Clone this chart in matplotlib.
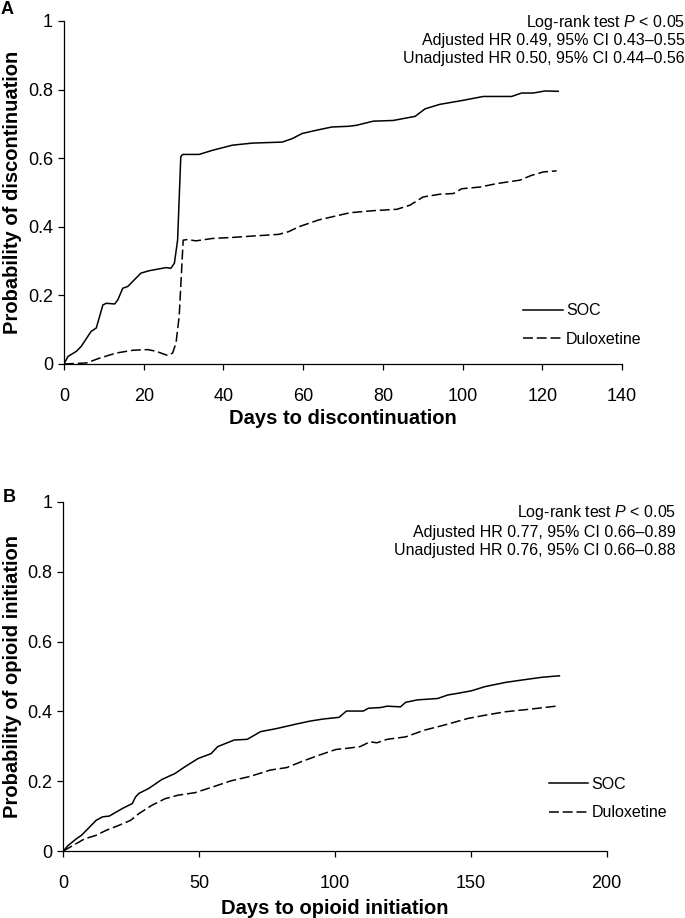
import matplotlib
matplotlib.use('Agg')
import matplotlib.pyplot as plt

plt.rcParams['font.family'] = ['Liberation Sans', 'DejaVu Sans']
plt.rcParams['mathtext.fontset'] = 'custom'
plt.rcParams['mathtext.rm'] = 'Liberation Sans'
plt.rcParams['mathtext.it'] = 'Liberation Sans:italic'

# Panel A: discontinuation
a_soc_days = [0, 1, 3.1, 4.3, 6.8, 8.1, 9.75, 10.6, 12.7, 13.5, 14.75, 16, 19.3, 21.4,
              25.6, 26.8, 27.7, 28.5, 29.3, 29.75, 33.9, 37.25, 42.25, 47.25, 54.75,
              57.25, 59.75, 63.9, 67.25, 71.4, 73.4, 77.6, 82.6, 88.1, 90.6, 94.3,
              99.8, 105.2, 112.3, 114.8, 117.7, 120.7, 124.0]
a_soc_prob = [0.0, 0.022, 0.037, 0.051, 0.095, 0.105, 0.172, 0.177, 0.175, 0.187, 0.221,
              0.226, 0.265, 0.272, 0.281, 0.279, 0.294, 0.361, 0.604, 0.611, 0.611,
              0.623, 0.638, 0.644, 0.647, 0.657, 0.672, 0.683, 0.691, 0.693, 0.696,
              0.708, 0.710, 0.722, 0.744, 0.757, 0.768, 0.780, 0.780, 0.790, 0.790,
              0.796, 0.795]
a_dul_days = [0, 5.6, 8.9, 13.1, 17.25, 21, 23.1, 26, 27.25, 28.1, 28.9, 29.6, 29.9, 31,
              33.1, 37.25, 42.25, 47.25, 53.9, 56.4, 58.9, 63.9, 67.25, 71.75, 77.6,
              83.5, 86.8, 90.1, 94.3, 97.7, 99.8, 104.4, 108.6, 114.4, 117.3, 120.3, 123.6]
a_dul_prob = [0.0, 0.003, 0.017, 0.032, 0.040, 0.042, 0.037, 0.025, 0.032, 0.061, 0.139,
              0.294, 0.361, 0.363, 0.359, 0.366, 0.369, 0.373, 0.378, 0.386, 0.400,
              0.420, 0.429, 0.441, 0.447, 0.451, 0.463, 0.487, 0.495, 0.497, 0.511,
              0.516, 0.526, 0.536, 0.550, 0.560, 0.563]

# Panel B: opioid initiation
b_soc_days = [0, 1.8, 4.8, 6.7, 9.1, 12.1, 14.5, 16.9, 21.8, 25.4, 26.6, 27.8, 31.4, 36.3,
              41.1, 44.7, 49.6, 54.4, 56.8, 62.9, 67.7, 72.6, 78.6, 85.9, 90.7, 95.5,
              101.5, 104.2, 110.4, 112.3, 116.7, 119.2, 124.1, 126.0, 130.3, 137.8,
              141.5, 145.3, 150.2, 155.2, 162.7, 168.9, 176.4, 182.6]
b_soc_prob = [0.0, 0.016, 0.035, 0.045, 0.064, 0.088, 0.098, 0.100, 0.122, 0.136, 0.155,
              0.165, 0.179, 0.205, 0.222, 0.241, 0.265, 0.279, 0.299, 0.318, 0.320,
              0.342, 0.351, 0.364, 0.372, 0.378, 0.383, 0.401, 0.401, 0.409, 0.411,
              0.415, 0.413, 0.426, 0.433, 0.437, 0.447, 0.452, 0.459, 0.471, 0.483,
              0.490, 0.498, 0.502]
b_dul_days = [0, 3.6, 7.9, 12.1, 15.7, 20.6, 24.8, 27.8, 32.6, 37.5, 42.3, 48.4, 54.4,
              61.7, 68.9, 76.2, 82.2, 88.3, 94.3, 100.4, 104.2, 109.2, 112.9, 115.4,
              119.2, 126.0, 132.8, 140.3, 149.0, 155.2, 162.7, 171.4, 181.3]
b_dul_prob = [0.0, 0.016, 0.035, 0.045, 0.059, 0.074, 0.088, 0.107, 0.131, 0.150, 0.160,
              0.167, 0.182, 0.201, 0.214, 0.232, 0.239, 0.258, 0.275, 0.291, 0.294,
              0.299, 0.313, 0.310, 0.320, 0.327, 0.346, 0.361, 0.380, 0.389, 0.399,
              0.406, 0.415]

a_notes = ['Log-rank test $\\it{P}$ < 0.05',
           'Adjusted HR 0.49, 95% CI 0.43\u20130.55',
           'Unadjusted HR 0.50, 95% CI 0.44\u20130.56']
b_notes = ['Log-rank test $\\it{P}$ < 0.05',
           'Adjusted HR 0.77, 95% CI 0.66\u20130.89',
           'Unadjusted HR 0.76, 95% CI 0.66\u20130.88']

W, H = 685, 918
fig = plt.figure(figsize=(W / 100, H / 100), dpi=100)


def px_box(left, top, right, bottom):
    return [left / W, 1 - bottom / H, (right - left) / W, (bottom - top) / H]


def panel(box, soc_x, soc_y, dul_x, dul_y, xmax, xstep, xlabel, ylabel,
          letter, letter_xy, notes, note_right, note_ys, leg_anchor, xlab_y, ylab_x):
    ax = fig.add_axes(px_box(*box))
    ax.plot(soc_x, soc_y, color='black', lw=1.1, label='SOC')
    ax.plot(dul_x, dul_y, color='black', lw=1.1, dashes=(6.5, 2.5), label='Duloxetine')
    ax.set_xlim(0, xmax)
    ax.set_ylim(0, 1)
    ax.set_xticks(range(0, xmax + 1, xstep))
    ax.set_yticks([0, 0.2, 0.4, 0.6, 0.8, 1])
    ax.set_yticklabels(['0', '0.2', '0.4', '0.6', '0.8', '1'])
    for s in ['top', 'right']:
        ax.spines[s].set_visible(False)
    for s in ['left', 'bottom']:
        ax.spines[s].set_linewidth(0.9)
    ax.tick_params(axis='x', direction='out', length=4, width=0.9, pad=13, labelsize=13)
    ax.tick_params(axis='y', direction='out', length=4, width=0.9, pad=4, labelsize=13)
    ax.set_xlabel(xlabel, fontsize=14.5, fontweight='bold')
    ax.set_ylabel(ylabel, fontsize=14.5, fontweight='bold')
    ax.xaxis.set_label_coords(0.5, xlab_y)
    ax.yaxis.set_label_coords(ylab_x, 0.5)
    ax.legend(loc='center left', bbox_to_anchor=leg_anchor, frameon=False,
              fontsize=11.5, handlelength=2.5, handletextpad=0.2, borderpad=0,
              borderaxespad=0, labelspacing=0.85)
    for txt, y in zip(notes, note_ys):
        fig.text(note_right / W, 1 - y / H, txt, ha='right', va='center', fontsize=11.5)
    fig.text(letter_xy[0] / W, 1 - letter_xy[1] / H, letter, ha='center', va='center',
             fontsize=13, fontweight='bold')
    return ax


panel((64, 21, 622, 364), a_soc_days, a_soc_prob, a_dul_days, a_dul_prob, 140, 20,
      'Days to discontinuation', 'Probability of discontinuation',
      'A', (7.5, 10), a_notes, 685, (22, 41, 59), (0.822, 0.113), -0.131, -0.0753)

panel((63.3, 502, 606.7, 851), b_soc_days, b_soc_prob, b_dul_days, b_dul_prob, 200, 50,
      'Days to opioid initiation', 'Probability of opioid initiation',
      'B', (9, 498), b_notes, 676, (513, 532, 551), (0.893, 0.150), -0.138, -0.076)

fig.savefig('out.png', dpi=100)
